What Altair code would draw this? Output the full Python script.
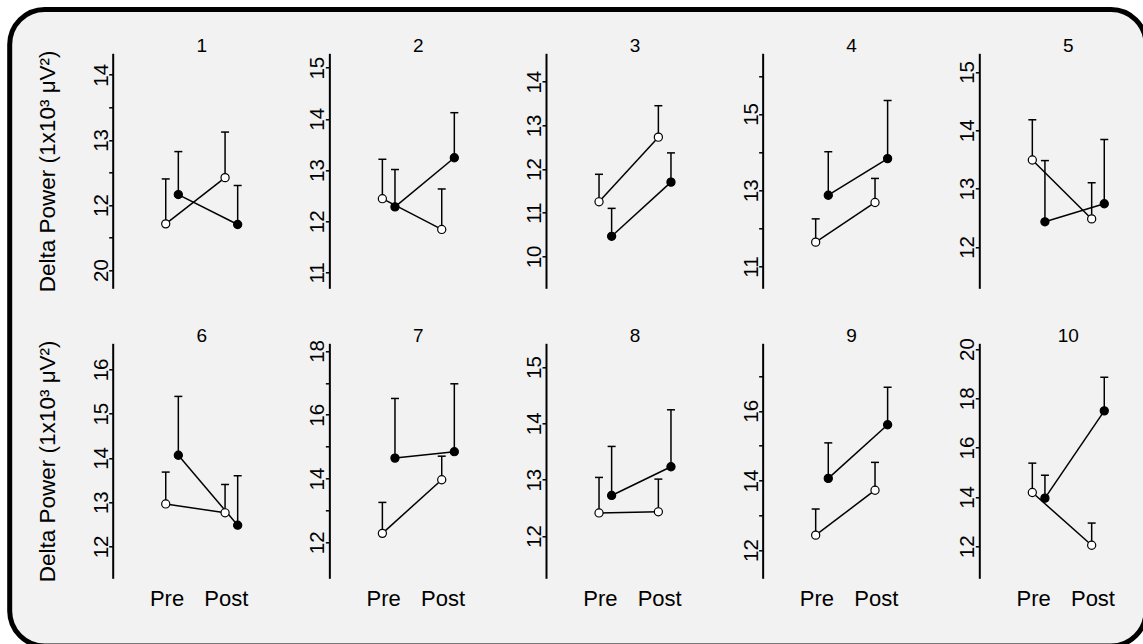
import altair as alt
import pandas as pd

panel_ids = ["1", "2", "3", "4", "5", "6", "7", "8", "9", "10"]

open_pre = [11.71, 12.44, 11.25, 11.64, 13.49, 12.96, 12.28, 12.41, 12.43, 14.18]
open_pre_sem = [0.69, 0.77, 0.63, 0.61, 0.69, 0.72, 0.97, 0.63, 0.75, 1.19]
open_post = [12.42, 11.84, 12.73, 12.68, 12.48, 12.76, 13.96, 12.43, 13.72, 12.04]
open_post_sem = [0.70, 0.79, 0.72, 0.63, 0.62, 0.64, 0.74, 0.58, 0.80, 0.90]
filled_pre = [12.16, 12.28, 10.46, 12.87, 12.43, 14.06, 14.64, 12.72, 14.06, 13.95]
filled_pre_sem = [0.66, 0.73, 0.64, 1.14, 1.05, 1.33, 1.87, 0.87, 1.02, 0.93]
filled_post = [11.70, 13.24, 11.70, 13.83, 12.74, 12.48, 14.84, 13.23, 15.60, 17.49]
filled_post_sem = [0.60, 0.88, 0.67, 1.52, 1.10, 1.12, 2.13, 1.01, 1.08, 1.36]

y_domains = [
    [10.72, 14.33], [10.69, 15.28], [9.27, 14.65], [10.43, 16.59], [11.29, 15.32],
    [11.28, 16.59], [10.87, 18.24], [11.25, 15.42], [11.19, 17.94], [10.70, 20.23],
]
tick_values = [
    [11, 11.5, 12, 12.5, 13, 13.5, 14],
    [11, 12, 13, 14, 15],
    [10, 11, 12, 13, 14],
    [11, 12, 13, 14, 15, 16],
    [12, 13, 14, 15],
    [12, 13, 14, 15, 16],
    [12, 13, 14, 15, 16, 17, 18],
    [12, 13, 14, 15],
    [12, 13, 14, 15, 16, 17],
    [12, 14, 16, 18, 20],
]
tick_labels = [
    ["20", "", "12", "", "13", "", "14"],
    ["11", "12", "13", "14", "15"],
    ["10", "11", "12", "13", "14"],
    ["11", "", "13", "", "15", ""],
    ["12", "13", "14", "15"],
    ["12", "13", "14", "15", "16"],
    ["12", "", "14", "", "16", "", "18"],
    ["12", "13", "14", "15"],
    ["12", "", "14", "", "16", ""],
    ["12", "14", "16", "18", "20"],
]
times = ["Pre", "Post"]
groups = ["open", "filled"]
y_title = "Delta Power (1x10\u00b3 \u03bcV\u00b2)"

rows = []
for i, p in enumerate(panel_ids):
    for t, g, m, s in [
        ("Pre", "open", open_pre[i], open_pre_sem[i]),
        ("Post", "open", open_post[i], open_post_sem[i]),
        ("Pre", "filled", filled_pre[i], filled_pre_sem[i]),
        ("Post", "filled", filled_post[i], filled_post_sem[i]),
    ]:
        rows.append({"panel": p, "time": t, "group": g, "mean": m, "top": m + s})
df = pd.DataFrame(rows)

W, H = 178, 235
FONT = "Liberation Sans"


def label_expr(vals, labs):
    expr = "''"
    for v, l in reversed(list(zip(vals, labs))):
        expr = f"datum.value == {v} ? '{l}' : ({expr})"
    return expr


def make_panel(i):
    d = df[df["panel"] == panel_ids[i]]
    row = i // 5
    col = i % 5
    xscale = alt.Scale(domain=times, paddingInner=0.1505, paddingOuter=0.575)
    if row == 1:
        xaxis = alt.Axis(labelAngle=0, labelFontSize=22, labelFont=FONT, labelColor="black",
                         domain=False, ticks=False, tickSize=0, labelPadding=10,
                         labelOffset=-5, title=None, zindex=1)
    else:
        xaxis = None
    x = alt.X("time:N", scale=xscale, axis=xaxis, title=None)
    xo = alt.XOffset("group:N", scale=alt.Scale(domain=groups, paddingInner=0, paddingOuter=1))

    axis_kw = dict(
        values=tick_values[i], labelExpr=label_expr(tick_values[i], tick_labels[i]),
        grid=False, domainColor="black", domainWidth=2, tickColor="black", tickWidth=1.5,
        tickSize=4, labelFontSize=20.5, labelFont=FONT, labelColor="black", labelAngle=270,
        labelAlign="center", labelBaseline="alphabetic", labelPadding=1.5, labelOverlap=False,
        zindex=1,
    )
    if col == 0:
        axis_kw.update(title=y_title, titleFontSize=22.5, titleFont=FONT, titleFontWeight="normal",
                       titleColor="black", titleAngle=270, titleX=-57.7, titleY=H / 2,
                       titleAlign="center", titleBaseline="alphabetic")
        ttl = y_title
    else:
        axis_kw.update(title=None)
        ttl = None
    yscale = alt.Scale(domain=y_domains[i], nice=False, zero=False)
    yaxis = alt.Axis(**axis_kw)
    y_mean = alt.Y("mean:Q", scale=yscale, axis=yaxis, title=ttl)
    y_top = alt.Y("top:Q", scale=yscale, axis=yaxis, title=ttl)

    base = alt.Chart(d)
    err = base.mark_rule(color="black", strokeWidth=1.5).encode(x=x, xOffset=xo, y=y_mean, y2="top:Q")
    cap = base.mark_tick(color="black", size=8, thickness=1.5, opacity=1).encode(x=x, xOffset=xo, y=y_top)
    line = base.mark_line(color="black", strokeWidth=1.5).encode(x=x, xOffset=xo, y=y_mean, detail="group:N")
    pts = base.mark_circle(size=66, stroke="black", strokeWidth=1.2, opacity=1).encode(
        x=x, xOffset=xo, y=y_mean,
        fill=alt.Fill("group:N", scale=alt.Scale(domain=groups, range=["white", "black"]), legend=None),
    )
    num = alt.Chart(pd.DataFrame({"label": [panel_ids[i]]})).mark_text(
        fontSize=19, font=FONT, baseline="alphabetic", align="center", color="black"
    ).encode(x=alt.value(W / 2), y=alt.value(-1), text="label:N")
    layers = [err, cap, line, pts, num]
    if i == 0:
        frame = alt.Chart(pd.DataFrame({"a": [0]})).mark_rect(
            cornerRadius=35, fill="#f2f2f2", stroke="black", strokeWidth=5
        ).encode(x=alt.value(-103), x2=alt.value(1033.3), y=alt.value(-43.8), y2=alt.value(592.7))
        layers = [frame] + layers
    return alt.layer(*layers).properties(width=W, height=H)


panels = [make_panel(i) for i in range(10)]
chart = alt.concat(
    *panels, columns=5, spacing={"row": 55, "column": 38.65}, bounds="flush"
).properties(
    autosize=alt.AutoSizeParams(type="none"),
    padding={"left": 112.7, "top": 53.3, "right": 1030.3, "bottom": 590.7},
).configure_view(stroke=None)

chart.save("out.html", embed_options={"renderer": "svg", "actions": False})
